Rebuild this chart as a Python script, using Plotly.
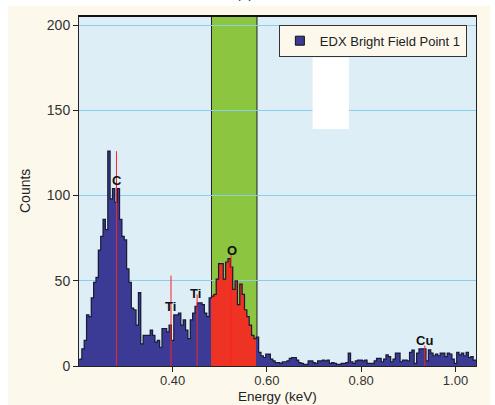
import numpy as np
import plotly.graph_objects as go

# ---------------- data ----------------
BIN_START = 0.2025      # keV, left edge of first channel
BIN_WIDTH = 0.005       # keV per channel
counts = [
    4, 10, 15, 30, 29, 40, 49, 52, 68, 76,
    86, 80, 126, 98, 104, 96, 104, 86, 76, 74,
    57, 49, 34, 33, 24, 43, 13, 18, 18, 18,
    21, 18, 14, 15, 11, 22, 22, 20, 24, 15,
    30, 30, 31, 24, 27, 21, 16, 27, 31, 35,
    37, 37, 36, 31, 29, 40, 41, 42, 51, 60,
    60, 51, 61, 63, 58, 45, 50, 36, 48, 42,
    33, 29, 24, 18, 16, 17, 8, 6, 5, 7,
    7, 4, 3, 2, 2, 1.5, 2.5, 2.5, 3, 4.5,
    5, 5, 3.5, 2, 1.5, 1, 1, 3, 3, 2,
    1.5, 3, 3, 3.5, 3, 3.5, 1.5, 2, 1.5, 1,
    1, 1.5, 1.5, 2, 7.5, 2.5, 1.5, 3, 3.5, 3.5,
    3, 3.5, 1.5, 1.5, 1.5, 3, 4.5, 4.5, 2.5, 4,
    6.5, 5.5, 2.5, 4, 7.5, 7.5, 2.5, 3.5, 3.5, 3,
    8, 9.3, 1.5, 7.5, 10, 10, 10, 3, 9.5, 7.5,
    6, 7, 6, 7.5, 7.5, 5.5, 7.5, 7, 4, 1.5,
    8, 6.5, 7.5, 6, 8, 5, 5.5, 3.5, 3.5,
]
band_range = [0.4825, 0.579]          # highlighted (green) window, keV
peak_labels = ["C", "Ti", "Ti", "O", "Cu"]
peak_energy = [0.281, 0.3966, 0.452, 0.524, 0.935]
peak_line_top = [126, 53, 42, 65, 12]
label_energy = [0.2813, 0.396, 0.449, 0.525, 0.935]
label_count = [109, 35, 42.5, 68, 15]
y_ticks = [0, 50, 100, 150, 200]
x_ticks = [0.40, 0.60, 0.80, 1.00]
x_ticktext = ["0.40", "0.60", "0.80", "1.00"]
white_box = [0.697, 0.774, 139, 181]
series_name = "EDX Bright Field Point 1"

# ---------------- derived ----------------
cnt = np.array(counts, dtype=float)
n = len(cnt)
edges = BIN_START + BIN_WIDTH * np.arange(n + 1)
centers = edges[:-1] + BIN_WIDTH / 2
in_band = (centers > band_range[0]) & (centers < band_range[1])

BLUE = "#3b3b96"
RED = "#ee3224"
GREEN = "#8cc540"
OUTLINE = "#1a1a33"
FONT = "Liberation Sans, Arial, sans-serif"

fig = go.Figure()
fig.add_trace(go.Bar(x=centers, y=np.where(in_band, np.nan, cnt), width=BIN_WIDTH,
                     marker=dict(color=BLUE, line=dict(width=0)), showlegend=False,
                     hoverinfo="skip"))
fig.add_trace(go.Bar(x=centers, y=np.where(in_band, cnt, np.nan), width=BIN_WIDTH,
                     marker=dict(color=RED, line=dict(width=0)), showlegend=False,
                     hoverinfo="skip"))
# step outline
step_x = np.concatenate([edges[:-1], [edges[-1]]])
step_y = np.concatenate([cnt, [cnt[-1]]])
fig.add_trace(go.Scatter(x=step_x, y=step_y, mode="lines", line=dict(shape="hv", color=OUTLINE, width=1.2),
                         showlegend=False, hoverinfo="skip"))
# legend entry
fig.add_trace(go.Scatter(x=[None], y=[None], mode="markers", name=series_name,
                         marker=dict(symbol="square", size=9, color=BLUE, line=dict(color="#111", width=1))))

shapes = []
# cream paper area
shapes.append(dict(type="rect", xref="paper", yref="paper", x0=-0.179, x1=1.036, y0=-0.12, y1=1.029,
                   fillcolor="#fcf8ec", line=dict(width=0), layer="below"))
# plot background
shapes.append(dict(type="rect", xref="paper", yref="paper", x0=0, x1=1, y0=0, y1=1,
                   fillcolor="#deeef7", line=dict(width=0), layer="below"))
# green band
shapes.append(dict(type="rect", xref="x", yref="paper", x0=band_range[0], x1=band_range[1], y0=0, y1=1,
                   fillcolor=GREEN, line=dict(color="#222", width=1), layer="between"))
# white box
shapes.append(dict(type="rect", xref="x", yref="y", x0=white_box[0], x1=white_box[1],
                   y0=white_box[2], y1=white_box[3], fillcolor="white", line=dict(width=0), layer="above"))
# peak marker lines
for e, t in zip(peak_energy, peak_line_top):
    shapes.append(dict(type="line", xref="x", yref="y", x0=e, x1=e, y0=0, y1=t,
                       line=dict(color="#ff2020", width=1), layer="above"))
# top frame
shapes.append(dict(type="line", xref="paper", yref="paper", x0=0, x1=1, y0=1, y1=1,
                   line=dict(color="#111", width=2), layer="above"))

annotations = []
for t, e, c in zip(peak_labels, label_energy, label_count):
    annotations.append(dict(x=e, y=c, xref="x", yref="y", text="<b>%s</b>" % t, showarrow=False,
                            font=dict(family=FONT, size=13, color="#111"), xanchor="center", yanchor="middle"))
annotations.append(dict(x=0.5, y=-0.0885, xref="paper", yref="paper", text="Energy (keV)", showarrow=False,
                        font=dict(family=FONT, size=13.5, color="#222"), xanchor="center", yanchor="middle"))
annotations.append(dict(x=-0.136, y=0.5, xref="paper", yref="paper", text="Counts", showarrow=False,
                        textangle=-90, font=dict(family=FONT, size=14, color="#222"),
                        xanchor="center", yanchor="middle"))
annotations.append(dict(x=0.418, y=1.066, xref="paper", yref="paper", text="(a)", showarrow=False,
                        font=dict(family=FONT, size=14, color="#333"), xanchor="center", yanchor="middle"))

fig.update_layout(
    width=495, height=405,
    margin=dict(l=79, r=19, t=16, b=39),
    paper_bgcolor="white",
    plot_bgcolor="rgba(0,0,0,0)",
    barmode="overlay", bargap=0,
    font=dict(family=FONT, size=14, color="#333"),
    shapes=shapes,
    annotations=annotations,
    legend=dict(x=0.977, y=0.975, xanchor="right", yanchor="top",
                bgcolor="#fcf8ec", bordercolor="#333", borderwidth=1,
                font=dict(family=FONT, size=13, color="#222"),
                itemwidth=30, tracegroupgap=0),
    showlegend=True,
)
fig.update_xaxes(range=[0.2015, 1.0435], tickvals=x_ticks, ticktext=x_ticktext,
                 ticks="outside", ticklen=5, tickcolor="#222", showgrid=False, zeroline=False,
                 showline=True, linecolor="#222", linewidth=1, mirror=True, ticklabelstandoff=-3,
                 tickfont=dict(family=FONT, size=13, color="#333"))
fig.update_yaxes(range=[0, 205.3], tickvals=y_ticks, ticks="outside", ticklen=5, tickcolor="#222",
                 showgrid=True, gridcolor="#88cfee", gridwidth=1, zeroline=False,
                 showline=True, linecolor="#222", linewidth=1, mirror=True,
                 tickfont=dict(family=FONT, size=14, color="#333"))

fig.write_html("out.html")
